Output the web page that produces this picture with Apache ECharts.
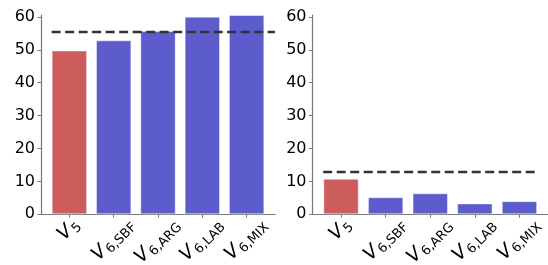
<!DOCTYPE html>
<html><head><meta charset="utf-8">
<script src="https://cdn.jsdelivr.net/npm/echarts@6/dist/echarts.min.js"></script>
<style>html,body{margin:0;padding:0;background:#fff}#c{width:548px;height:265px}</style>
</head><body><div id="c"></div>
<script>
// ---- data ----
const categories = ['5', '6,SBF', '6,ARG', '6,LAB', '6,MIX'];
const leftValues = [49.8, 52.9, 55.7, 60.1, 60.6];
const rightValues = [10.8, 5.2, 6.4, 3.3, 4.0];
const leftBaseline = 55.4;
const rightBaseline = 13.0;
const yTicks = [0, 10, 20, 30, 40, 50, 60];
const xTicks = [0, 1, 2, 3, 4];

// ---- style ----
const FONT = '"DejaVu Sans", sans-serif';
const RED = '#cd5c5c', BLUE = '#5c5ccc';
const AXIS = '#777';
const VS = 19, SS = 13, SUB = 2;
const ctx = document.createElement('canvas').getContext('2d');
function tw(t, size) { ctx.font = 'italic ' + size + 'px "DejaVu Sans"'; return ctx.measureText(t).width; }
const Ls = categories.map(c => tw('V', VS) + tw(c, SS));
const Lmin = Math.min.apply(null, Ls);
const pads = Ls.map(L => (L - Lmin) / 2);
const rich = {
  v: { fontSize: VS, fontStyle: 'italic', fontFamily: FONT, color: '#000', lineHeight: VS, padding: [0, 1, SUB, 0], verticalAlign: 'bottom' },
  s: { fontSize: SS, fontFamily: FONT, color: '#000', lineHeight: SS, verticalAlign: 'bottom' }
};
pads.forEach((p, i) => { rich['p' + i] = { width: p, height: VS + SUB + p, verticalAlign: 'bottom' }; });

function xAxisFor(gi) {
  return {
    type: 'value', gridIndex: gi, min: -0.64, max: 4.64,
    splitLine: { show: false },
    axisLine: { show: true, onZero: false, lineStyle: { color: AXIS, width: 1.2 } },
    axisTick: { show: true, length: 3.5, lineStyle: { color: AXIS }, customValues: xTicks },
    axisLabel: {
      customValues: xTicks, rotate: 45, align: 'center', verticalAlign: 'middle', margin: 16,
      formatter: function (val) { const i = Math.round(val); return '{v|V}{s|' + categories[i] + '}{p' + i + '|}'; },
      rich: rich
    }
  };
}
function yAxisFor(gi) {
  return {
    type: 'value', gridIndex: gi, min: 0, max: 60.6,
    splitLine: { show: false },
    axisLine: { show: true, onZero: false, lineStyle: { color: AXIS, width: 1.2 } },
    axisTick: { show: true, length: 3.5, lineStyle: { color: AXIS }, customValues: yTicks },
    axisLabel: { customValues: yTicks, fontSize: 16, fontFamily: FONT, color: '#000', margin: 6 }
  };
}
function barSeries(gi, values, baseline, lineEnd) {
  return {
    type: 'bar', xAxisIndex: gi, yAxisIndex: gi, barWidth: 35.4,
    data: values.map((v, i) => ({ value: [i, v], itemStyle: { color: i === 0 ? RED : BLUE } })),
    itemStyle: { borderColor: 'rgba(255,255,255,0.45)', borderWidth: 1 },
    markLine: {
      silent: true, symbol: 'none', label: { show: false },
      lineStyle: { type: [9, 4.5], width: 2.3, color: '#333' },
      data: [[{ coord: [-0.4, baseline] }, { coord: [lineEnd, baseline] }]]
    }
  };
}
const chart = echarts.init(document.getElementById('c'), null, { renderer: 'canvas' });
chart.setOption({
  animation: false,
  textStyle: { fontFamily: FONT },
  grid: [
    { left: 41, right: 273, top: 15, bottom: 50.7, outerBoundsMode: 'none' },
    { left: 312.5, right: 0, top: 15, bottom: 50.7, outerBoundsMode: 'none' }
  ],
  xAxis: [xAxisFor(0), xAxisFor(1)],
  yAxis: [yAxisFor(0), yAxisFor(1)],
  series: [barSeries(0, leftValues, leftBaseline, 4.64), barSeries(1, rightValues, rightBaseline, 4.4)]
});
</script></body></html>
